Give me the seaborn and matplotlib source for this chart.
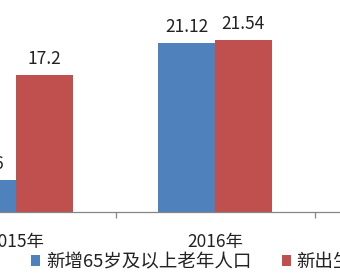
import matplotlib
matplotlib.use("Agg")
import matplotlib.pyplot as plt
import seaborn as sns
import pandas as pd

years = ["2015年", "2016年"]
series = ["新增65岁及以上老年人口", "新出生人口"]
elderly = [3.96, 21.12]
births = [17.2, 21.54]
colors = ["#4F81BD", "#C0504D"]

sns.set_theme(style="white")
plt.rcParams["font.family"] = ["Noto Sans CJK SC", "DejaVu Sans"]

df = pd.DataFrame({
    "year": years * 2,
    "series": [series[0]] * len(years) + [series[1]] * len(years),
    "value": elderly + births,
})

W, H = 340, 279
fig = plt.figure(figsize=(W / 100, H / 100), dpi=100)

# pixel geometry: category x -> 16 + 199*x ; baseline at 211.7 px from top, 7.97 px/unit
x0, x1 = -0.6, 1.75
y1 = 27
left_px = 16 + 199 * x0
right_px = 16 + 199 * x1
base_px = 211.7
top_px = base_px - y1 * 7.97
ax = fig.add_axes([left_px / W, (H - base_px) / H,
                   (right_px - left_px) / W, (base_px - top_px) / H])

sns.barplot(data=df, x="year", y="value", hue="series", order=years,
            hue_order=series, palette=colors, saturation=1, width=0.568,
            linewidth=0, ax=ax, legend=True)

ax.set_xlim(x0, x1)
ax.set_ylim(0, y1)
for s in ["top", "left", "right"]:
    ax.spines[s].set_visible(False)
ax.spines["bottom"].set_color("#868686")
ax.spines["bottom"].set_linewidth(0.9)
ax.set_yticks([])
ax.set_xlabel("")
ax.set_ylabel("")
ax.set_xticks([0, 1])
ax.set_xticklabels(years, fontsize=12.5, color="#222222")
ax.tick_params(axis="x", which="major", length=0, pad=15)
ax.set_xticks([-0.5, 0.5, 1.5], minor=True)
ax.tick_params(axis="x", which="minor", length=4.5, width=0.9, color="#868686",
               direction="out", bottom=True)

for c in ax.containers:
    ax.bar_label(c, fmt="%g", padding=5, fontsize=12.5, color="#222222")

handles, labels = ax.get_legend_handles_labels()
ax.legend(handles, labels, loc="center left", bbox_to_anchor=(31 / W, (H - 262) / H),
          bbox_transform=fig.transFigure, ncol=2, frameon=False,
          handlelength=0.5, handleheight=0.5, handletextpad=0.3,
          columnspacing=1.65, borderpad=0, borderaxespad=0, fontsize=13.3,
          labelcolor="#222222")

fig.savefig("out.png", dpi=100)
